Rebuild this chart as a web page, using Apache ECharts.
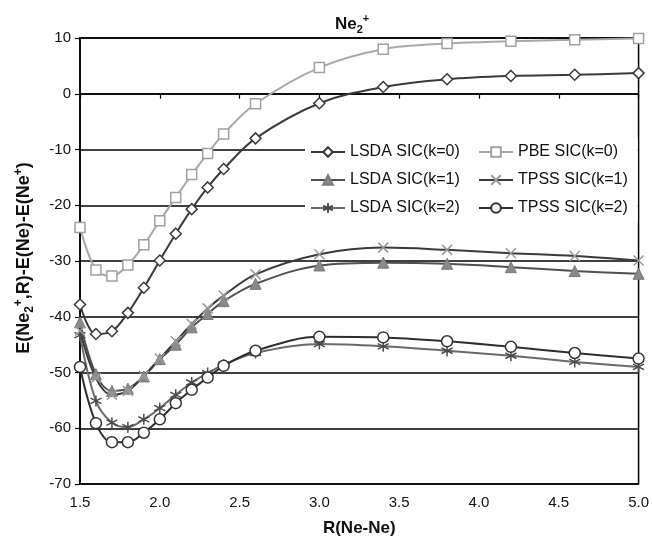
<!DOCTYPE html>
<html>
<head>
<meta charset="utf-8">
<script src="https://cdn.jsdelivr.net/npm/echarts@6/dist/echarts.min.js"></script>
<style>
html,body{margin:0;padding:0;background:#fff;}
#c{width:652px;height:542px;}
</style>
</head>
<body>
<div id="c"></div>
<script>
const R = [1.5,1.6,1.7,1.8,1.9,2.0,2.1,2.2,2.3,2.4,2.6,3.0,3.4,3.8,4.2,4.6,5.0];
const lsdaK0 = [-37.8,-43.1,-42.6,-39.3,-34.8,-29.9,-25.1,-20.7,-16.8,-13.5,-8.0,-1.7,1.2,2.6,3.2,3.4,3.7];
const pbeK0  = [-24.0,-31.6,-32.7,-30.7,-27.1,-22.8,-18.6,-14.5,-10.7,-7.2,-1.8,4.7,8.0,9.0,9.4,9.7,9.9];
const lsdaK1 = [-41.0,-50.3,-53.3,-52.9,-50.7,-47.6,-45.0,-41.9,-39.5,-37.2,-34.1,-30.8,-30.3,-30.5,-31.1,-31.8,-32.3];
const tpssK1 = [-42.5,-51.0,-54.0,-53.3,-50.6,-47.5,-44.4,-41.3,-38.5,-36.2,-32.4,-28.8,-27.6,-28.0,-28.6,-29.1,-29.9];
const lsdaK2 = [-43.3,-55.1,-59.0,-59.8,-58.4,-56.4,-54.0,-51.8,-50.1,-48.6,-46.5,-44.9,-45.3,-46.1,-47.0,-48.1,-49.0];
const tpssK2 = [-49.0,-59.1,-62.5,-62.5,-60.8,-58.4,-55.5,-53.1,-50.9,-48.8,-46.1,-43.6,-43.7,-44.4,-45.4,-46.5,-47.5];
const names = ['LSDA SIC(k=0)','PBE SIC(k=0)','LSDA SIC(k=1)','TPSS SIC(k=1)','LSDA SIC(k=2)','TPSS SIC(k=2)'];
const yTicks = {min:-70, max:10, step:10};
const xTicks = {min:1.5, max:5.0, step:0.5};

const FONT = 'Liberation Sans, Arial, sans-serif';
const pairs = arr => R.map((x,i)=>[x, arr[i]]);
const XMARK = 'path://M0,0L10,10M10,0L0,10';
const AST = 'path://M5,0L5,10M0,2.5L10,7.5M0,7.5L10,2.5';

function ser(name, data, lineColor, symbol, size, fill, border, bw){
  return {
    name, type:'line', data: pairs(data), smooth:0.35,
    symbol, symbolSize:size, showSymbol:true,
    lineStyle:{color:lineColor, width:2},
    itemStyle:{color:fill, borderColor:border, borderWidth:bw},
    emphasis:{disabled:true}, animation:false
  };
}

const chart = echarts.init(document.getElementById('c'), null, {renderer:'canvas'});
const legendText = {fontFamily:FONT, fontSize:16, color:'#111'};
chart.setOption({
  backgroundColor:'#fff',
  animation:false,
  grid:{left:80, right:12, top:38, bottom:58, show:true, borderColor:'#000', borderWidth:1.5, backgroundColor:'transparent'},
  xAxis:{type:'value', min:xTicks.min, max:xTicks.max, interval:xTicks.step,
    axisLine:{show:true, lineStyle:{color:'#000', width:1.5}},
    axisTick:{show:true, length:5, lineStyle:{color:'#000', width:1.2}},
    splitLine:{show:false},
    axisLabel:{color:'#111', fontFamily:FONT, fontSize:15, margin:11, formatter:v=>v.toFixed(1)},
    name:'R(Ne-Ne)', nameLocation:'middle', nameGap:36,
    nameTextStyle:{fontFamily:FONT, fontSize:17, fontWeight:'bold', color:'#111'}
  },
  yAxis:{type:'value', min:yTicks.min, max:yTicks.max, interval:yTicks.step,
    axisLine:{show:true, lineStyle:{color:'#000', width:1.5}},
    axisTick:{show:true, length:5, lineStyle:{color:'#000', width:1.2}},
    splitLine:{show:true, lineStyle:{color:'#000', width:1.5}},
    axisLabel:{color:'#111', fontFamily:FONT, fontSize:15, margin:9}
  },
  legend:[
    {data:[names[0],names[2],names[4]], orient:'vertical', left:305, top:139, itemWidth:34, itemHeight:12, itemGap:12,
     backgroundColor:'#fff', padding:[5,14,5,5], textStyle:legendText, selectedMode:false},
    {data:[names[1],names[3],names[5]], orient:'vertical', left:473, top:139, itemWidth:34, itemHeight:12, itemGap:12,
     backgroundColor:'#fff', padding:[5,10,5,5], textStyle:legendText, selectedMode:false}
  ],
  series:[
    ser(names[1], pbeK0, '#a8a8a8', 'rect', 10, '#fff', '#a0a0a0', 1.5),
    ser(names[0], lsdaK0, '#3a3a3a', 'diamond', 11, '#fff', '#3a3a3a', 1.5),
    ser(names[4], lsdaK2, '#6a6a6a', AST, 11, 'none', '#4a4a4a', 1.5),
    ser(names[5], tpssK2, '#2e2e2e', 'circle', 11, '#fff', '#333', 1.5),
    ser(names[2], lsdaK1, '#505050', 'triangle', 11, '#8a8a8a', '#7a7a7a', 1),
    ser(names[3], tpssK1, '#3a3a3a', XMARK, 10, 'none', '#9a9a9a', 1.5)
  ],
  graphic:[
    {type:'text', left:335, top:13, z:10,
     style:{text:'{m|Ne}{s|2}{p|+}', font:'bold 17px '+FONT, fill:'#111',
       rich:{m:{fontSize:17, fontWeight:'bold', lineHeight:22, fontFamily:FONT},
             s:{fontSize:11, fontWeight:'bold', lineHeight:11, verticalAlign:'bottom', fontFamily:FONT},
             p:{fontSize:11, fontWeight:'bold', lineHeight:11, verticalAlign:'top', fontFamily:FONT}}}},
    {type:'text', x:24, y:258, rotation:Math.PI/2, z:10,
     style:{text:'{m|E(Ne}{s|2}{p|+}{m|,R)-E(Ne)-E(Ne}{p|+}{m|)}', fill:'#111', align:'center', verticalAlign:'middle',
       rich:{m:{fontSize:18, fontWeight:'bold', lineHeight:23, fontFamily:FONT},
             s:{fontSize:12, fontWeight:'bold', lineHeight:11, verticalAlign:'bottom', fontFamily:FONT},
             p:{fontSize:12, fontWeight:'bold', lineHeight:11, verticalAlign:'top', fontFamily:FONT}}}}
  ]
});
</script>
</body>
</html>
